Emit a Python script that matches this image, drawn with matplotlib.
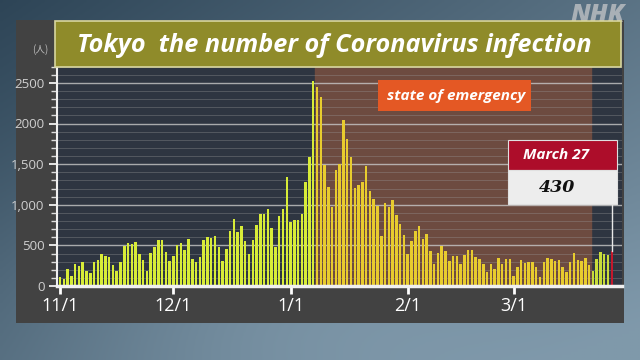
import numpy as np
import matplotlib
matplotlib.use("Agg")
import matplotlib.pyplot as plt
from matplotlib.patches import Rectangle

# daily new cases, Tokyo, 11/1 .. 3/27
nov = [116, 87, 209, 122, 269, 242, 294, 189, 157, 293, 317, 393, 374, 352, 255,
       180, 298, 493, 534, 522, 539, 391, 314, 186, 401, 481, 570, 561, 418, 311]
dec = [372, 500, 533, 449, 584, 327, 299, 352, 572, 602, 595, 621, 480, 305, 460,
       678, 822, 664, 736, 556, 392, 563, 748, 888, 884, 949, 708, 481, 856, 944, 1337]
jan = [783, 814, 816, 884, 1278, 1591, 2520, 2445, 2330, 1494, 1219, 970, 1433, 1502,
       2044, 1809, 1592, 1204, 1240, 1274, 1471, 1175, 1070, 986, 618, 1026, 973,
       1064, 868, 769, 633]
feb = [393, 556, 676, 734, 577, 639, 429, 276, 412, 491, 434, 307, 369, 371, 266,
       378, 445, 445, 353, 327, 272, 178, 275, 213, 340, 270, 337, 329]
mar = [121, 232, 316, 279, 301, 293, 237, 116, 290, 340, 335, 304, 320, 239, 175,
       300, 409, 323, 303, 342, 256, 187, 337, 420, 394, 376, 430]
cases = nov + dec + jan + feb + mar

tick_days = [0, 30, 61, 92, 120]
tick_labels = ["11/1", "12/1", "1/1", "2/1", "3/1"]
ytick_vals = [0, 500, 1000, 1500, 2000, 2500]
ytick_labels = ["0", "500", "1,000", "1,500", "2000", "2500"]
emergency_start, emergency_end = 68, 140
last_label = "March 27"

W, H = 640, 360
fig = plt.figure(figsize=(6.4, 3.6), dpi=100)

def fx(px):
    return px / W

def fy(py):
    return 1 - py / H

# background gradient
bg = fig.add_axes([0, 0, 1, 1], zorder=0)
gx = np.linspace(0, 1, 200)
gy = np.linspace(0, 1, 120)
X, Y = np.meshgrid(gx, gy)
t = np.clip(0.55 * X + 0.45 * Y + 0.25 * np.exp(-((X - 0.45) ** 2 * 6 + (Y - 0.85) ** 2 * 8)), 0, 1)
c0 = np.array([0.18, 0.27, 0.34])
c1 = np.array([0.50, 0.60, 0.67])
img = c0[None, None, :] * (1 - t[..., None]) + c1[None, None, :] * t[..., None]
bg.imshow(img, extent=[0, 1, 0, 1], aspect="auto", origin="upper")
bg.set_xlim(0, 1)
bg.set_ylim(0, 1)
bg.axis("off")

# gray panel
bg.add_patch(Rectangle((fx(16), fy(323)), fx(624) - fx(16), fy(20) - fy(323),
                       facecolor="#424242", edgecolor="none"))
bg.text(fx(40), fy(50), "(人)", color="#bbbbbb", fontsize=7,
        family=["Noto Sans CJK JP", "DejaVu Sans"], ha="center", va="center")
bg.text(fx(598), fy(15), "NHK", color="#b8bcc0", fontsize=18, fontweight="heavy",
        style="italic", family="Open Sans", ha="center", va="center", alpha=0.85)

# main axes
x0, x1, ytop, ybot = 57, 622, 65, 286
ax = fig.add_axes([fx(x0), fy(ybot), fx(x1) - fx(x0), fy(ytop) - fy(ybot)], zorder=1)
ax.set_facecolor("#2e3541")
ax.set_xlim(-0.8, 148.7)
ax.set_ylim(0, 2720)

ax.axvspan(emergency_start - 0.5, emergency_end + 0.5, color="#6d4b40", zorder=0)

for v in range(100, 2701, 100):
    if v % 500 == 0:
        ax.axhline(v, color="#c8c8c8", lw=1.0, alpha=0.8, zorder=1)
    else:
        ax.axhline(v, color="#9a9a9a", lw=0.7, alpha=0.35, zorder=1)

days = np.arange(len(cases))
colors = []
for d in days:
    if d == len(cases) - 1:
        colors.append("#c4182c")
    elif d < emergency_start:
        colors.append("#d8ec38")
    elif d <= emergency_end:
        colors.append("#e8cc2e")
    else:
        colors.append("#c8dc3a")
ax.bar(days, cases, width=0.66, color=colors, zorder=2)

for s in ["top", "right"]:
    ax.spines[s].set_visible(False)
ax.spines["left"].set_color("#f0f0f0")
ax.spines["left"].set_linewidth(1.5)
ax.spines["bottom"].set_color("#f0f0f0")
ax.spines["bottom"].set_linewidth(2.5)

ax.set_xticks(tick_days)
ax.set_xticklabels(tick_labels, color="white", fontsize=13, family="Open Sans")
ax.tick_params(axis="x", length=6, width=2, color="white", pad=2)
ax.set_yticks(ytick_vals)
ax.set_yticklabels(ytick_labels, color="#cfcfcf", fontsize=9.5, family="Open Sans")
ax.set_yticks(range(0, 2701, 100), minor=True)
ax.tick_params(axis="y", which="major", length=6, width=1.2, color="white", pad=3)
ax.tick_params(axis="y", which="minor", length=4, width=1, color="#dddddd")

last = len(cases) - 1
ax.plot([last, last], [cases[last], (286 - 204) / 0.0812], color="#e8e8e8", lw=1, zorder=3,
        clip_on=False)

# overlay for labels on top of the chart
top = fig.add_axes([0, 0, 1, 1], zorder=2)
top.set_xlim(0, 1)
top.set_ylim(0, 1)
top.axis("off")
top.patch.set_alpha(0)

# title banner
top.add_patch(Rectangle((fx(55), fy(67)), fx(621) - fx(55), fy(21) - fy(67),
                        facecolor="#8f8b2a", edgecolor="#d8d6a0", lw=1.2))
top.text(fx(334), fy(45), "Tokyo  the number of Coronavirus infection", color="white",
         fontsize=18.2, fontweight="bold", style="italic", family="Open Sans",
         ha="center", va="center")

# state of emergency label
top.add_patch(Rectangle((fx(378), fy(111)), fx(531) - fx(378), fy(80) - fy(111),
                        facecolor="#e45824", edgecolor="none"))
top.text(fx(456), fy(96), "state of emergency", color="white", fontsize=11,
         fontweight="bold", style="italic", family="Open Sans",
         ha="center", va="center")

# callout for the last day
top.add_patch(Rectangle((fx(508), fy(170)), fx(617) - fx(508), fy(140) - fy(170),
                        facecolor="#ad0d2a", edgecolor="#e0e0e0", lw=0.8))
top.add_patch(Rectangle((fx(508), fy(204)), fx(617) - fx(508), fy(170) - fy(204),
                        facecolor="#ededed", edgecolor="#e0e0e0", lw=0.8))
top.text(fx(556), fy(155), last_label, color="white", fontsize=11, fontweight="bold",
         style="italic", family="Open Sans", ha="center", va="center")
top.text(fx(557), fy(188), str(cases[last]), color="#111111", fontsize=12.5,
         fontweight="bold", style="italic", family="DejaVu Serif", ha="center", va="center")

fig.savefig("out.png", dpi=100)
